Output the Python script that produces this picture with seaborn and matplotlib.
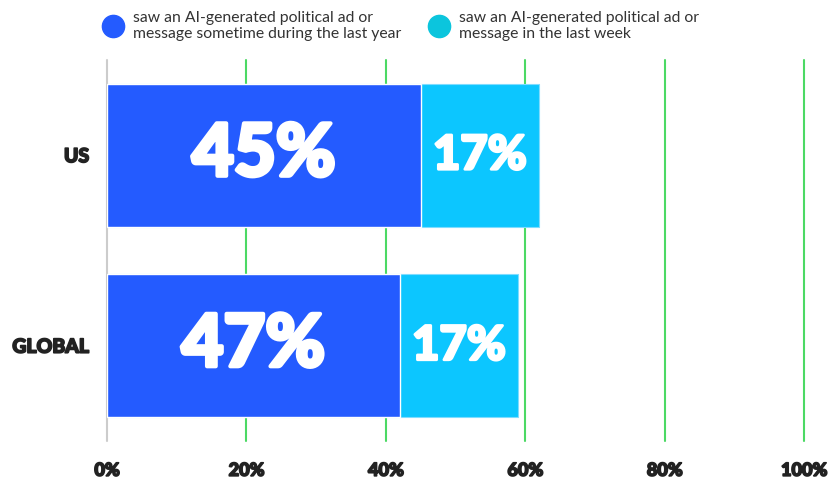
import matplotlib
matplotlib.use("Agg")
import matplotlib.pyplot as plt
import matplotlib.patheffects as pe
import seaborn as sns
import pandas as pd
from matplotlib.lines import Line2D

# ---- data ----
regions = ["US", "GLOBAL"]
last_year = [45, 42]          # bar lengths as drawn
last_week = [17, 17]
year_labels = ["45%", "47%"]
week_labels = ["17%", "17%"]
x_ticks = [0, 20, 40, 60, 80, 100]
x_tick_labels = ["0%", "20%", "40%", "60%", "80%", "100%"]
series_names = ["saw an AI-generated political ad or\nmessage sometime during the last year",
                "saw an AI-generated political ad or\nmessage in the last week"]

c_year = "#245BFF"
c_week = "#0CC6FF"
c_week_legend = "#0BC5DD"
grid_c = "#4CD964"
txt_c = "#222222"

sns.set_style("white")
plt.rcParams["font.family"] = ["Lato", "DejaVu Sans"]

df = pd.DataFrame({"region": regions, "year": last_year, "week": last_week})
df["total"] = df["year"] + df["week"]

fig = plt.figure(figsize=(8.4, 4.79), dpi=100)
ax = fig.add_axes([107 / 840, 1 - 441 / 479, (804 - 107) / 840, (441 - 60) / 479])

# gridlines
for t in x_ticks:
    ax.axvline(t, color=("#cccccc" if t == 0 else grid_c), lw=1.5, zorder=0, clip_on=False)

sns.barplot(data=df, y="region", x="total", orient="h", color=c_week, width=0.75,
            edgecolor="#7fdcff", linewidth=0.8, saturation=1, ax=ax, zorder=2)
sns.barplot(data=df, y="region", x="year", orient="h", color=c_year, width=0.75,
            edgecolor="white", linewidth=1.0, saturation=1, ax=ax, zorder=3)

big_fx = [pe.withStroke(linewidth=3.0, foreground="white")]
for i in range(len(regions)):
    ax.text(last_year[i] / 2, i, year_labels[i], ha="center", va="center",
            color="white", fontsize=52, fontweight="black", zorder=5, path_effects=big_fx)
    ax.text(last_year[i] + last_week[i] / 2, i, week_labels[i], ha="center", va="center",
            color="white", fontsize=34, fontweight="black", zorder=5,
            path_effects=[pe.withStroke(linewidth=2.0, foreground="white")])

ax.set_xlim(0, 100)
ax.set_ylim(1.5, -0.5)
ax.set_xticks(x_ticks)
tick_fx = [pe.withStroke(linewidth=1.2, foreground=txt_c)]
ax.set_xticklabels(x_tick_labels, fontsize=13, fontweight="black", color=txt_c)
ax.set_yticklabels(regions, fontsize=14, fontweight="black", color=txt_c)
for lab in ax.get_xticklabels() + ax.get_yticklabels():
    lab.set_path_effects(tick_fx)
ax.tick_params(axis="x", length=0, pad=15)
ax.tick_params(axis="y", length=0, pad=13)
ax.set_xlabel("")
ax.set_ylabel("")
for s in ax.spines.values():
    s.set_visible(False)

handles = [Line2D([0], [0], marker="o", linestyle="", markersize=16, color=c_year),
           Line2D([0], [0], marker="o", linestyle="", markersize=16, color=c_week_legend)]
fig.legend(handles, series_names, loc="upper left", bbox_to_anchor=(86 / 840, 1.0),
           ncol=2, frameon=False, fontsize=11.3, handletextpad=0.3, columnspacing=1.4,
           labelcolor="#333333", borderaxespad=0.3, labelspacing=0.2)

fig.savefig("out.png", dpi=100)
